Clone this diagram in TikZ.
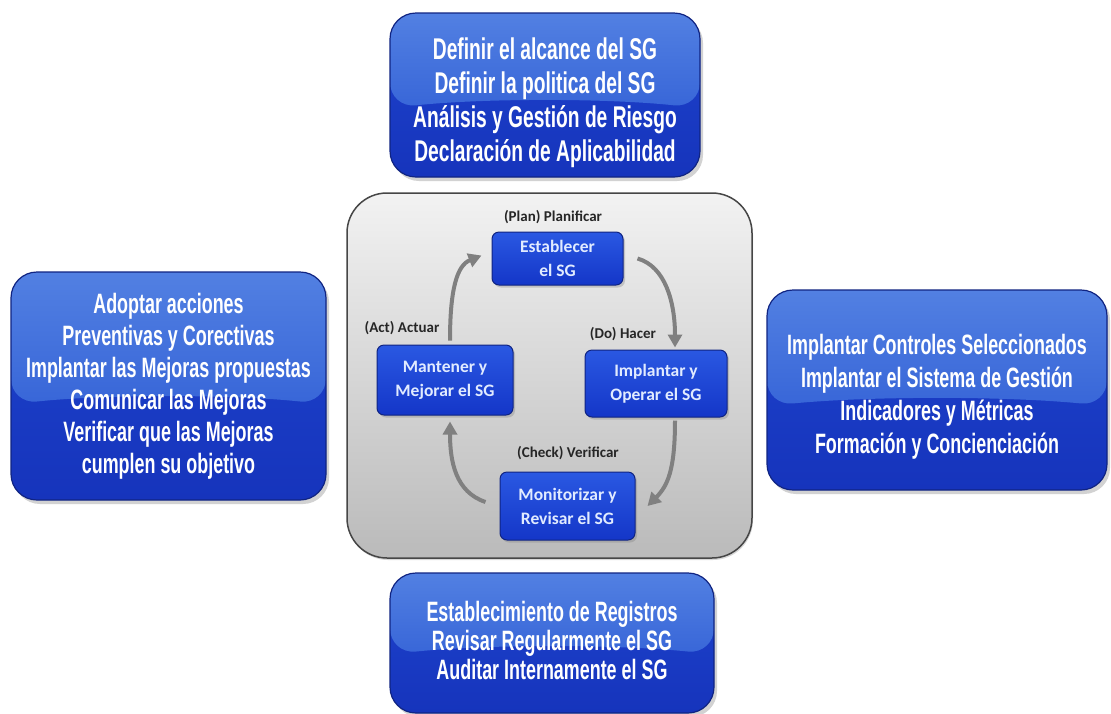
\documentclass[tikz,border=0pt]{standalone}
\usepackage{fontspec}
\newfontfamily\condfont[FakeStretch=0.64]{Liberation Sans}
\newfontfamily\calfont{Carlito}
\usetikzlibrary{arrows.meta,calc,shadows}
\definecolor{gloss1}{RGB}{82,128,226}
\definecolor{gloss2}{RGB}{56,102,216}
\definecolor{deep1}{RGB}{30,68,205}
\definecolor{deep2}{RGB}{22,52,188}
\definecolor{navy}{RGB}{16,36,130}
\definecolor{inner1}{RGB}{42,88,226}
\definecolor{inner2}{RGB}{20,54,200}
\definecolor{innertext}{RGB}{225,235,255}
\definecolor{arrowgray}{RGB}{128,128,128}
\definecolor{panelline}{RGB}{70,70,70}
\begin{document}
\begin{tikzpicture}[x=1pt,y=-1pt,
  outerbox/.style={rounded corners=26pt, draw=navy, line width=1.2pt,
    top color=deep1, bottom color=deep2,
    drop shadow={opacity=0.35, shadow xshift=3pt, shadow yshift=-4pt},
    path picture={
      \coordinate (L) at ($(path picture bounding box.north west)!0.58!(path picture bounding box.south west)$);
      \coordinate (R) at ($(path picture bounding box.north east)!0.58!(path picture bounding box.south east)$);
      \path[top color=gloss1, bottom color=gloss2]
        (path picture bounding box.north west) -- (path picture bounding box.north east) -- (R)
        .. controls ($(R)!0.3!(L)+(0,-10)$) and ($(L)!0.3!(R)+(0,-10)$) .. (L) -- cycle;
    }},
  outertext/.style 2 args={text=white, align=center, font=\condfont\bfseries\fontsize{#1}{#2}\selectfont},
  innerbox/.style={rounded corners=7pt, draw=navy, line width=1pt,
    top color=inner1, bottom color=inner2,
    drop shadow={opacity=0.35, shadow xshift=2pt, shadow yshift=-2.5pt},
    text=innertext, align=center, font=\calfont\bfseries\fontsize{17.5}{24}\selectfont},
  phase/.style={text=black!85, font=\calfont\bfseries\fontsize{15}{17}\selectfont},
  cyc/.style={draw=arrowgray, line width=4pt, -{Triangle[length=13pt,width=14pt]}}
]
\useasboundingbox (0,0) rectangle (1111,713);
\fill[white] (0,0) rectangle (1111,713);

% central panel
\node[draw=panelline, line width=1.5pt, rounded corners=40pt, top color=black!5, bottom color=black!27,
  drop shadow={opacity=0.3, shadow xshift=1pt, shadow yshift=-2pt},
  minimum width=405pt, minimum height=365pt] (panel) at (549.5,375.5) {};

% outer boxes
\node[outerbox, minimum width=310pt, minimum height=164pt] (topbox) at (545,95) {};
\node[outerbox, minimum width=315pt, minimum height=228pt] (leftbox) at (168.5,386) {};
\node[outerbox, minimum width=340pt, minimum height=200pt] (rightbox) at (937,390) {};
\node[outerbox, minimum width=324pt, minimum height=140pt] (botbox) at (552,643) {};

\node[outertext={30}{34}] (toptext) at (545,103) {Definir el alcance del SG\\Definir la politica del SG\\Análisis y Gestión de Riesgo\\Declaración de Aplicabilidad};
\node[outertext={28}{32}] (lefttext) at (168.5,386) {Adoptar acciones\\Preventivas y Corectivas\\Implantar las Mejoras propuestas\\Comunicar las Mejoras\\Verificar que las Mejoras\\cumplen su objetivo};
\node[outertext={28}{33}] (righttext) at (937,397) {Implantar Controles Seleccionados\\Implantar el Sistema de Gestión\\Indicadores y Métricas\\Formación y Concienciación};
\node[outertext={28}{29}] (bottext) at (552,640) {Establecimiento de Registros\\Revisar Regularmente el SG\\Auditar Internamente el SG};

% inner cycle boxes
\node[innerbox, minimum width=131pt, minimum height=53pt] (est) at (557.5,258.5) {Establecer\\el SG};
\node[innerbox, minimum width=136pt, minimum height=70pt] (man) at (445,380) {Mantener y\\Mejorar el SG};
\node[innerbox, minimum width=142pt, minimum height=67pt] (imp) at (656,383.5) {Implantar y\\Operar el SG};
\node[innerbox, minimum width=135pt, minimum height=68pt] (mon) at (567.5,506) {Monitorizar y\\Revisar el SG};

\node[phase] (plan) at (553,217) {(Plan) Planificar};
\node[phase] (act) at (402,328) {(Act) Actuar};
\node[phase] (do) at (623,334) {(Do) Hacer};
\node[phase] (check) at (568,453) {(Check) Verificar};

% cycle arrows
\draw[cyc] ($(est.east)+(14,0)$) .. controls +(28,8) and +(0,-45) .. ($(imp.north)+(19,-2)$);
\draw[cyc] ($(imp.south)+(19,3)$) .. controls +(0,50) and +(20,-20) .. ($(mon.east)+(12,0)$);
\draw[cyc] ($(mon.west)+(-14,-4)$) .. controls +(-30,-10) and +(0,40) .. ($(man.south)+(5,6)$);
\draw[cyc] ($(man.north)+(5,-4)$) .. controls +(0,-50) and +(-25,10) .. ($(est.west)+(-10,-3)$);
\end{tikzpicture}
\end{document}
